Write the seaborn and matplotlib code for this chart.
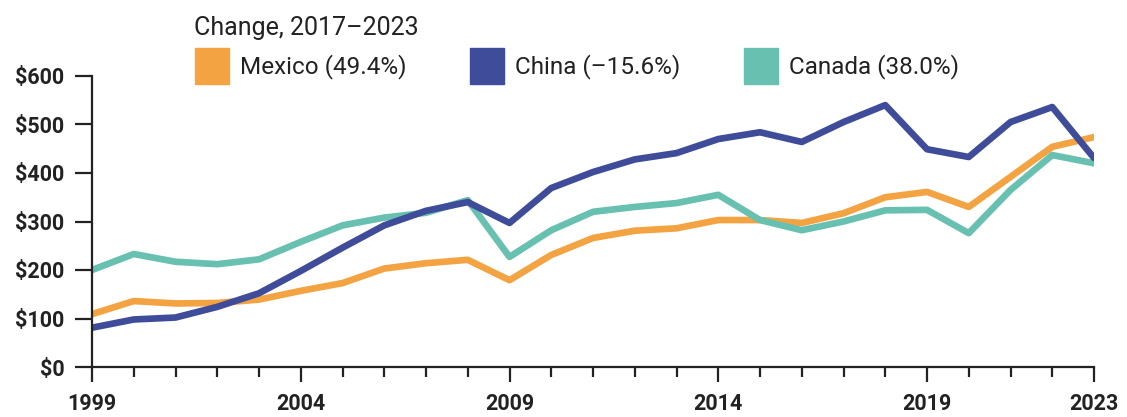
import matplotlib
matplotlib.use("Agg")
import matplotlib.pyplot as plt
from matplotlib.patches import Patch
from matplotlib.ticker import MultipleLocator, FuncFormatter
import seaborn as sns
import pandas as pd

years = list(range(1999, 2024))
mexico = [109, 136, 131, 132, 139, 157, 173, 203, 214, 221, 179, 231, 266, 281, 286, 303, 303, 297, 317, 350, 361, 330, 392, 454, 474]
china = [81, 98, 102, 124, 152, 198, 246, 292, 322, 340, 297, 369, 402, 428, 441, 470, 484, 464, 505, 540, 449, 433, 505, 536, 431]
canada = [200, 233, 217, 212, 222, 258, 292, 308, 318, 344, 227, 282, 320, 330, 338, 355, 303, 282, 300, 323, 324, 276, 365, 437, 420]
series_names = ["Mexico", "Canada", "China"]
legend_labels = ["Mexico (49.4%)", "China (\u201315.6%)", "Canada (38.0%)"]
legend_title = "Change, 2017\u20132023"
colors = {"Mexico": "#F4A343", "China": "#3F4C99", "Canada": "#68C0B0"}

df = pd.DataFrame({
    "year": years * 3,
    "value": mexico + canada + china,
    "country": ["Mexico"] * len(years) + ["Canada"] * len(years) + ["China"] * len(years),
})

sns.set_theme(style="white")
plt.rcParams["font.family"] = ["Roboto", "DejaVu Sans"]

fig = plt.figure(figsize=(11.27, 4.17), dpi=100)
ax = fig.add_axes([92 / 1127, 1 - 367 / 417, (1094 - 92) / 1127, (367 - 76) / 417])

sns.lineplot(data=df, x="year", y="value", hue="country", hue_order=series_names,
             palette=colors, linewidth=4.8, ax=ax, legend=False)

ax.set_xlim(1999, 2023)
ax.set_ylim(0, 600)
ax.set_xlabel("")
ax.set_ylabel("")
for s in ["top", "right"]:
    ax.spines[s].set_visible(False)
for s in ["left", "bottom"]:
    ax.spines[s].set_color("#222222")
    ax.spines[s].set_linewidth(1.6)

ax.set_xticks([1999, 2004, 2009, 2014, 2019, 2023])
ax.xaxis.set_minor_locator(MultipleLocator(1))
ax.yaxis.set_major_locator(MultipleLocator(100))
ax.yaxis.set_major_formatter(FuncFormatter(lambda v, p: "\\$%d" % v))
ax.tick_params(axis="x", which="major", direction="out", length=11, width=1.6, color="#222222",
               labelsize=15.5, labelcolor="#222222", pad=8, bottom=True)
ax.tick_params(axis="x", which="minor", direction="out", length=7.5, width=1.6, color="#222222", bottom=True)
ax.tick_params(axis="y", which="major", direction="out", length=12, width=1.6, color="#222222",
               labelsize=15.5, labelcolor="#222222", pad=8, left=True)
for lab in ax.get_xticklabels() + ax.get_yticklabels():
    lab.set_fontweight("bold")

fig.text(194 / 1127, 1 - 35 / 417, legend_title, fontsize=18, color="#222222",
         ha="left", va="baseline")

handles = [Patch(facecolor=colors[n], edgecolor=colors[n]) for n in ["Mexico", "China", "Canada"]]
leg = fig.legend(handles, legend_labels, loc="center left",
                 bbox_to_anchor=(195 / 1127, 1 - 66 / 417), ncol=3, frameon=False,
                 fontsize=17.5, handlelength=1.4, handleheight=1.85,
                 handletextpad=0.45, columnspacing=2.62, borderaxespad=0, borderpad=0)
for t in leg.get_texts():
    t.set_color("#222222")

fig.savefig("out.png", dpi=100)
